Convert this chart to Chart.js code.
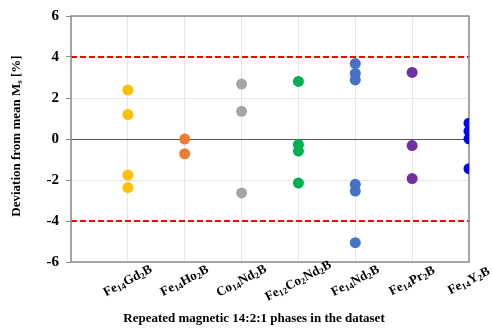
<!DOCTYPE html>
<html lang="en">
<head>
    <meta charset="UTF-8">
    <title>Deviation from mean Ms</title>
    <script src="https://cdn.jsdelivr.net/npm/chart.js"></script>
    <style>
        body {
            margin: 0;
            background: #fff;
        }
        .chart-container {
            position: relative;
            width: 492px;
            height: 333px;
        }
    </style>
</head>
<body>
    <div class="chart-container">
        <canvas id="msChart" width="492" height="333"></canvas>
    </div>
    <script>
        // phases, digits are drawn as subscripts
        const phases = ['Fe14Gd2B', 'Fe14Ho2B', 'Co14Nd2B', 'Fe12Co2Nd2B', 'Fe14Nd2B', 'Fe14Pr2B', 'Fe14Y2B'];
        const phaseColors = ['#FFC000', '#ED7D31', '#A5A5A5', '#00B050', '#4472C4', '#7030A0', '#0000FF'];

        // deviation from mean Ms [%] for each repeated entry
        const fe14gd2b = [2.39, 1.19, -1.76, -2.37];
        const fe14ho2b = [0.0, -0.72];
        const co14nd2b = [2.68, 1.35, -2.63];
        const fe12co2nd2b = [2.81, -0.27, -0.59, -2.15];
        const fe14nd2b = [3.68, 3.2, 2.88, -2.21, -2.54, -5.06];
        const fe14pr2b = [3.25, -0.32, -1.93];
        const fe14y2b = [0.77, 0.38, 0.01, -1.45];
        const deviations = [fe14gd2b, fe14ho2b, co14nd2b, fe12co2nd2b, fe14nd2b, fe14pr2b, fe14y2b];

        const limits = [4, -4];
        const yTicks = [-6, -4, -2, 0, 2, 4, 6];

        const serif = "'Liberation Serif', 'Times New Roman', serif";

        // draw a string with every digit lowered and shrunk
        function drawFormula(ctx, text, x, y, size, subSize) {
            const parts = text.match(/\d+|\D+/g);
            const mainFont = 'bold ' + size + 'px ' + serif;
            const subFont = 'bold ' + subSize + 'px ' + serif;
            let total = 0;
            parts.forEach(p => {
                ctx.font = /\d/.test(p) ? subFont : mainFont;
                total += ctx.measureText(p).width;
            });
            let cx = x - total / 2;
            parts.forEach(p => {
                const sub = /\d/.test(p);
                ctx.font = sub ? subFont : mainFont;
                ctx.fillText(p, cx, sub ? y + 3 : y);
                cx += ctx.measureText(p).width;
            });
        }

        const decorPlugin = {
            id: 'decor',
            beforeDatasetsDraw(chart) {
                const ctx = chart.ctx;
                const area = chart.chartArea;
                const ys = chart.scales.y;
                ctx.save();
                // red dashed limits
                ctx.strokeStyle = '#FF0000';
                ctx.lineWidth = 2;
                ctx.setLineDash([6, 3]);
                limits.forEach(v => {
                    const py = ys.getPixelForValue(v);
                    ctx.beginPath();
                    ctx.moveTo(area.left, py);
                    ctx.lineTo(area.right, py);
                    ctx.stroke();
                });
                ctx.setLineDash([]);
                // frame round the plot
                ctx.strokeStyle = '#8c8c8c';
                ctx.lineWidth = 1.5;
                ctx.strokeRect(area.left, area.top, area.right - area.left, area.bottom - area.top);
                ctx.restore();
            },
            afterDraw(chart) {
                const ctx = chart.ctx;
                const area = chart.chartArea;
                const xs = chart.scales.x;
                ctx.save();
                ctx.fillStyle = '#000';
                ctx.textBaseline = 'middle';
                ctx.textAlign = 'left';
                // rotated category labels
                phases.forEach((name, i) => {
                    const px = xs.getPixelForValue(i + 1);
                    ctx.save();
                    ctx.translate(px, area.bottom + 19);
                    ctx.rotate(-28 * Math.PI / 180);
                    drawFormula(ctx, name, 0, 0, 13, 9);
                    ctx.restore();
                });
                // x axis title
                ctx.font = 'bold 13px ' + serif;
                ctx.textAlign = 'center';
                ctx.fillText('Repeated magnetic 14:2:1 phases in the dataset', 254, 319);
                // y axis title with subscript s
                ctx.save();
                ctx.translate(17, 136);
                ctx.rotate(-Math.PI / 2);
                ctx.textAlign = 'left';
                const main = 'Deviation from mean M';
                const tail = ' [%]';
                ctx.font = 'bold 13px ' + serif;
                const w1 = ctx.measureText(main).width;
                const w3 = ctx.measureText(tail).width;
                ctx.font = 'bold 9px ' + serif;
                const w2 = ctx.measureText('s').width;
                let sx = -(w1 + w2 + w3) / 2;
                ctx.font = 'bold 13px ' + serif;
                ctx.fillText(main, sx, 0);
                sx += w1;
                ctx.font = 'bold 9px ' + serif;
                ctx.fillText('s', sx, 3);
                sx += w2;
                ctx.font = 'bold 13px ' + serif;
                ctx.fillText(tail, sx, 0);
                ctx.restore();
                ctx.restore();
            }
        };

        const datasets = phases.map((name, i) => ({
            label: name,
            data: deviations[i].map(v => ({ x: i + 1, y: v })),
            backgroundColor: phaseColors[i],
            borderColor: phaseColors[i],
            borderWidth: 0,
            pointRadius: 5.5,
            pointHoverRadius: 5.5
        }));

        new Chart(document.getElementById('msChart').getContext('2d'), {
            type: 'scatter',
            data: { datasets: datasets },
            plugins: [decorPlugin],
            options: {
                responsive: false,
                animation: false,
                layout: { padding: { left: 0, right: 23, top: 15, bottom: 0 } },
                plugins: {
                    legend: { display: false },
                    tooltip: { enabled: false }
                },
                scales: {
                    x: {
                        type: 'linear',
                        min: 0,
                        max: phases.length,
                        afterFit: s => { s.height = 71; },
                        ticks: { display: false, stepSize: 1 },
                        grid: { color: '#e6e6e6', drawTicks: false },
                        border: { display: false }
                    },
                    y: {
                        min: -6,
                        max: 6,
                        afterFit: s => { s.width = 71; },
                        afterBuildTicks: s => { s.ticks = yTicks.map(v => ({ value: v })); },
                        ticks: {
                            color: '#000',
                            padding: 7,
                            font: { family: serif, size: 15, weight: 'bold' }
                        },
                        grid: {
                            color: ctx => ctx.tick && ctx.tick.value === 0 ? '#555' : '#e6e6e6',
                            tickColor: '#8c8c8c',
                            tickLength: 5
                        },
                        border: { display: false }
                    }
                }
            }
        });
    </script>
</body>
</html>
